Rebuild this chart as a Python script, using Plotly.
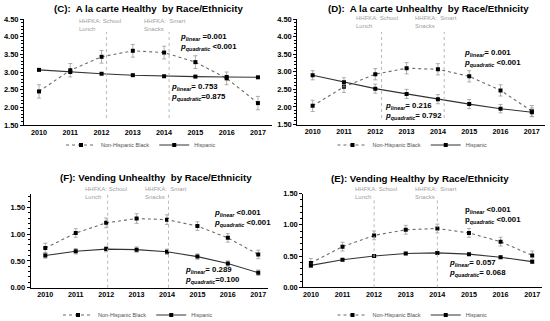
import plotly.graph_objects as go

# ---------------- data ----------------
years = [2010, 2011, 2012, 2013, 2014, 2015, 2016, 2017]
series_names = ["Non-Hispanic Black", "Hispanic"]

c_nhb = [2.45, 3.05, 3.43, 3.60, 3.55, 3.28, 2.82, 2.12]
c_nhb_err = [0.19, 0.19, 0.18, 0.18, 0.18, 0.18, 0.18, 0.19]
c_his = [3.06, 3.00, 2.95, 2.91, 2.88, 2.87, 2.86, 2.85]
c_his_err = [0.02, 0.02, 0.02, 0.02, 0.02, 0.02, 0.02, 0.02]

d_nhb = [2.03, 2.57, 2.93, 3.10, 3.07, 2.87, 2.47, 1.88]
d_nhb_err = [0.16, 0.16, 0.16, 0.16, 0.16, 0.16, 0.16, 0.16]
d_his = [2.90, 2.70, 2.52, 2.37, 2.22, 2.08, 1.95, 1.85]
d_his_err = [0.13, 0.13, 0.13, 0.13, 0.13, 0.13, 0.12, 0.12]

f_nhb = [0.74, 1.02, 1.21, 1.29, 1.27, 1.15, 0.93, 0.62]
f_nhb_err = [0.09, 0.08, 0.09, 0.09, 0.09, 0.08, 0.08, 0.08]
f_his = [0.60, 0.68, 0.72, 0.71, 0.67, 0.58, 0.45, 0.28]
f_his_err = [0.05, 0.05, 0.05, 0.05, 0.05, 0.05, 0.05, 0.05]

e_nhb = [0.39, 0.65, 0.83, 0.92, 0.94, 0.87, 0.73, 0.51]
e_nhb_err = [0.07, 0.07, 0.07, 0.07, 0.07, 0.07, 0.07, 0.07]
e_his = [0.35, 0.44, 0.50, 0.54, 0.55, 0.53, 0.48, 0.41]
e_his_err = [0.02, 0.02, 0.02, 0.02, 0.02, 0.02, 0.02, 0.02]

policy_years = [2012, 2014]
policy_labels = ["HHFKA: School<br>Lunch", "HHFKA:  Smart<br>Snacks"]

titles = ["(C):  A la carte Healthy  by Race/Ethnicity",
          "(D):  A la carte Unhealthy  by Race/Ethnicity",
          "(F): Vending Unhealthy  by Race/Ethnicity",
          "(E): Vending Healthy by Race/Ethnicity"]

p_texts = [
    [(" =0.001", " <0.001", True), ("= 0.753", "=0.875", True)],
    [("= 0.001", " <0.001", True), ("= 0.216", "= 0.792", True)],
    [(" <0.001", " <0.001", True), ("= 0.289", "=0.100", True)],
    [(" <0.001", " <0.001", False), ("= 0.057", "= 0.068", True)],
]

# ---------------- layout helpers ----------------
W, H = 550, 321
def px(x): return x / W
def py(y): return 1 - y / H

FONT = "Liberation Sans, Arial, sans-serif"

panels = [
    dict(nhb=c_nhb, nhb_err=c_nhb_err, his=c_his, his_err=c_his_err,
         dom_x=(24, 272), dom_y=(19, 125), xr=[2009.52, 2017.45], yr=[1.5, 4.5],
         title_xy=(148, 8), vline_off=0.16, vline_y=(32, 118),
         lab_x=[77, 141.7], lab_y=25.5, legend_xy=(141, 145),
         p_pos=[(178.3, 42.5), (169.3, 92.5)]),
    dict(nhb=d_nhb, nhb_err=d_nhb_err, his=d_his, his_err=d_his_err,
         dom_x=(297.3, 545), dom_y=(19, 124.5), xr=[2009.51, 2017.42], yr=[1.5, 4.5],
         title_xy=(428, 8), vline_off=0.2, vline_y=(32, 118),
         lab_x=[354.3, 413.3], lab_y=22.5, legend_xy=(412.5, 145),
         p_pos=[(461.7, 58), (383.3, 110.5)]),
    dict(nhb=f_nhb, nhb_err=f_nhb_err, his=f_his, his_err=f_his_err,
         dom_x=(30.7, 268), dom_y=(193.9, 287.7), xr=[2009.52, 2017.32], yr=[0, 1.75],
         title_xy=(156.3, 177.3), vline_off=0.05, vline_y=(193, 287.7),
         lab_x=[83.3, 142.7], lab_y=192.7, legend_xy=(138, 315),
         p_pos=[(212.3, 217.5), (182.7, 275)]),
    dict(nhb=e_nhb, nhb_err=e_nhb_err, his=e_his, his_err=e_his_err,
         dom_x=(303.3, 542), dom_y=(193.5, 287.3), xr=[2009.76, 2017.31], yr=[0, 1.5],
         title_xy=(420, 179), vline_off=0.0, vline_y=(197, 287.3),
         lab_x=[352.7, 413.3], lab_y=192.7, legend_xy=(412.5, 315),
         p_pos=[(463.3, 215), (447.3, 268)]),
]

fig = go.Figure()
annotations = []
shapes = []
layout = {}

for i, p in enumerate(panels):
    n = i + 1
    xa = "x" if n == 1 else f"x{n}"
    ya = "y" if n == 1 else f"y{n}"
    xkey = "xaxis" if n == 1 else f"xaxis{n}"
    ykey = "yaxis" if n == 1 else f"yaxis{n}"
    lkey = "legend" if n == 1 else f"legend{n}"

    for name, vals, errs, dash, lcol in [
        (series_names[0], p["nhb"], p["nhb_err"], "dot", "#6b6b6b"),
        (series_names[1], p["his"], p["his_err"], "solid", "#333333"),
    ]:
        fig.add_trace(go.Scatter(
            x=years, y=vals, name=name, xaxis=xa, yaxis=ya, legend=lkey,
            mode="lines+markers",
            line=dict(color=lcol, width=1.1, dash=dash),
            marker=dict(symbol="square", size=4, color="black"),
            error_y=dict(type="data", array=errs, visible=True,
                         color="#9a9a9a", thickness=0.8, width=2),
        ))

    layout[xkey] = dict(
        domain=[px(p["dom_x"][0]), px(p["dom_x"][1])], anchor=ya,
        range=p["xr"], tickmode="array", tickvals=years,
        ticktext=[str(y) for y in years], ticks="", automargin=False,
        showline=True, linecolor="black", linewidth=1,
        showgrid=False, zeroline=False,
        tickfont=dict(family=FONT, size=7.2, color="black", weight="bold"),
    )
    layout[ykey] = dict(
        domain=[py(p["dom_y"][1]), py(p["dom_y"][0])], anchor=xa,
        range=p["yr"], dtick=0.5, tick0=0, tickformat=".2f", automargin=False,
        ticks="outside", ticklen=3, tickcolor="black", tickwidth=1,
        minor=dict(dtick=0.1, ticks="outside", ticklen=2, tickcolor="black", tickwidth=0.8),
        showline=True, linecolor="black", linewidth=1,
        showgrid=False, zeroline=False,
        tickfont=dict(family=FONT, size=7.5, color="black", weight="bold"),
    )
    layout[lkey] = dict(
        x=px(p["legend_xy"][0]), y=py(p["legend_xy"][1]),
        xanchor="center", yanchor="middle", orientation="h",
        font=dict(family=FONT, size=5.5, color="#505050"),
        bgcolor="rgba(0,0,0,0)", itemwidth=30, tracegroupgap=0,
    )

    # title
    annotations.append(dict(
        x=px(p["title_xy"][0]), y=py(p["title_xy"][1]), xref="paper", yref="paper",
        text=f"<b>{titles[i]}</b>", showarrow=False, xanchor="center", yanchor="middle",
        font=dict(family=FONT, size=9.7, color="black"),
    ))

    # policy lines and labels
    for k, (yr, lab) in enumerate(zip(policy_years, policy_labels)):
        shapes.append(dict(
            type="line", xref=xa, yref="paper",
            x0=yr + p["vline_off"], x1=yr + p["vline_off"],
            y0=py(p["vline_y"][1]), y1=py(p["vline_y"][0]),
            line=dict(color="#b8b8b8", width=1, dash="dot"),
        ))
        annotations.append(dict(
            x=px(p["lab_x"][k]), y=py(p["lab_y"]), xref="paper", yref="paper",
            text=lab, showarrow=False, xanchor="left", yanchor="middle", align="left",
            font=dict(family=FONT, size=6, color="#a0a0a0"),
        ))

    # p-value annotations
    for (lin, quad, ital), (ax, yy) in zip(p_texts[i], p["p_pos"]):
        pch = "<i>p</i>" if ital else "p"
        annotations.append(dict(
            x=px(ax), y=py(yy), xref="paper", yref="paper",
            text=(f"<b>{pch}<sub><i>linear</i></sub>{lin}<br>"
                  f"{pch}<sub><i>quadratic</i></sub>{quad}</b>"),
            showarrow=False, xanchor="left", yanchor="middle", align="left",
            font=dict(family=FONT, size=7.8, color="black"),
        ))

fig.update_layout(
    width=W, height=H, margin=dict(l=0, r=0, t=0, b=0, autoexpand=False),
    paper_bgcolor="white", plot_bgcolor="white",
    annotations=annotations, shapes=shapes, showlegend=True,
    **layout,
)

fig.write_html(
    "out.html",
    config={"displayModeBar": False},
    post_script="document.body.style.margin='0';document.body.style.overflow='hidden';",
)
